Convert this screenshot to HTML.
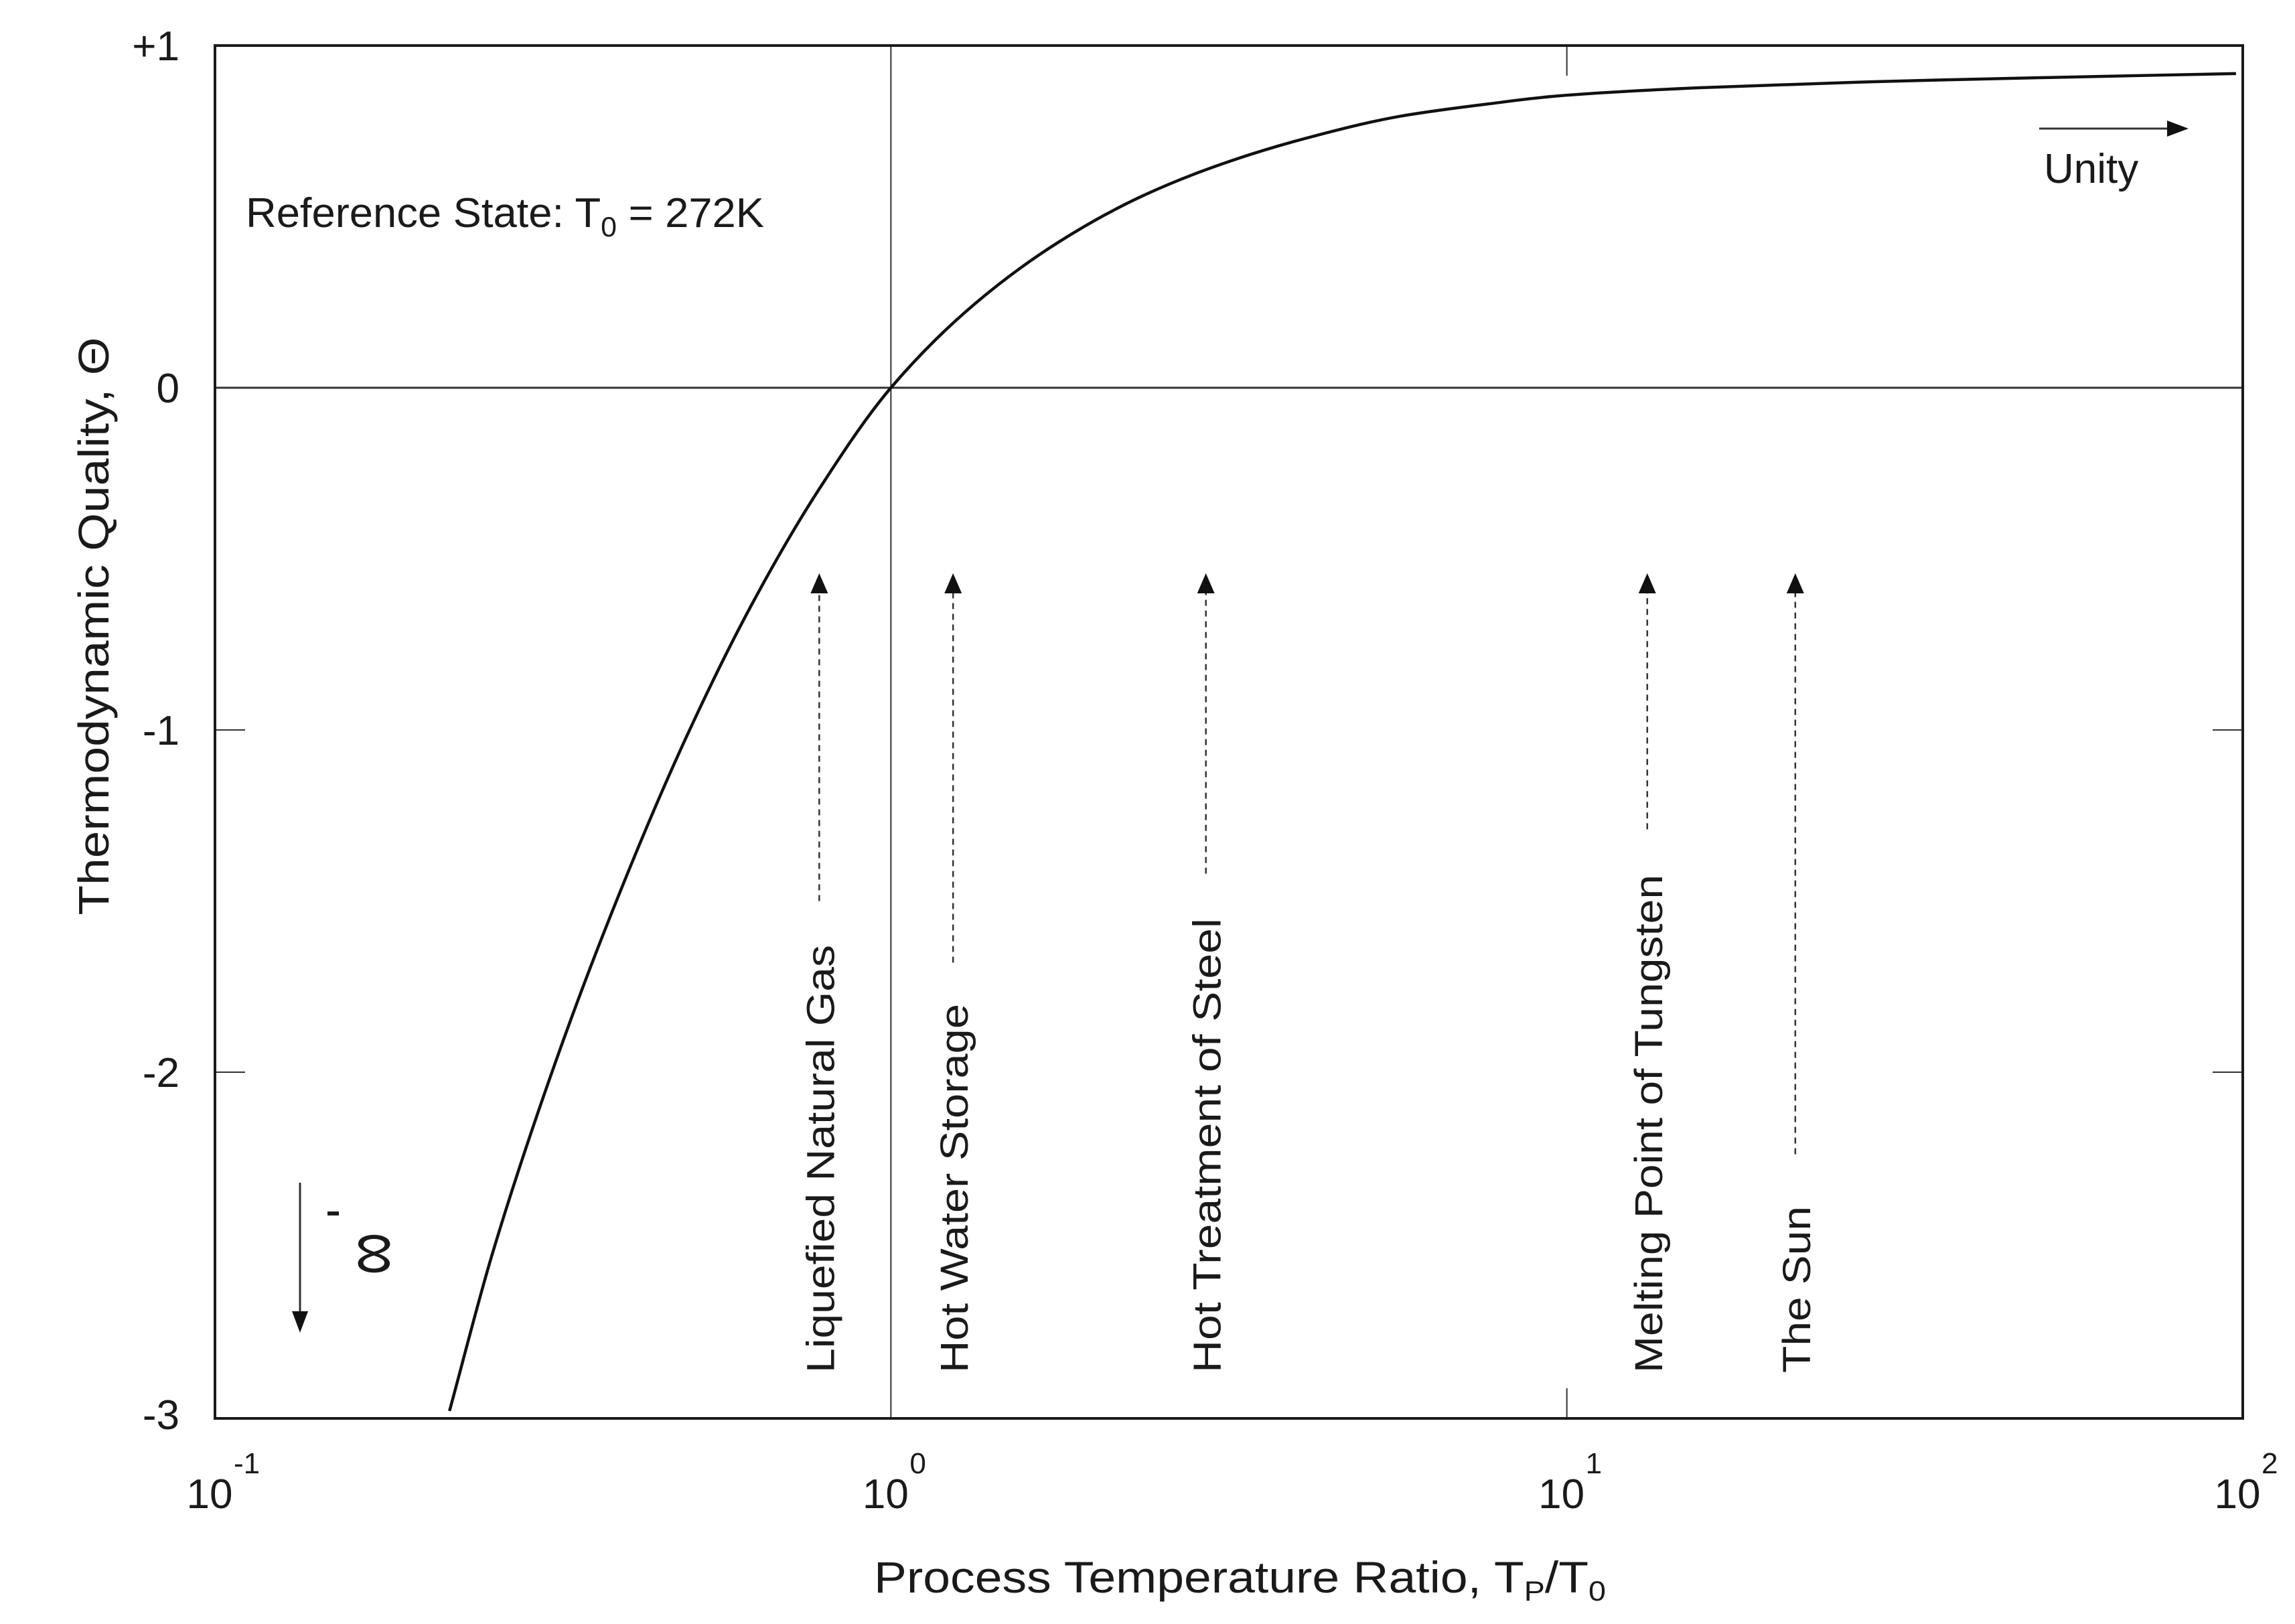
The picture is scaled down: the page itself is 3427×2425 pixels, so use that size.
<!DOCTYPE html>
<html><head><meta charset="utf-8"><style>
html,body{margin:0;padding:0;background:#fff}
svg{display:block}
text{font-family:"Liberation Sans",Arial,sans-serif;fill:#1a1a1a}
</style></head><body>
<svg id="chart" width="3427" height="2425" viewBox="0 0 3427 2425" xmlns="http://www.w3.org/2000/svg">
<g id="plot"></g>
</svg>
<script>
const logT=[-0.653,-0.591,-0.495,-0.398,-0.302,-0.206,-0.110,0,0.124,0.250,0.377,0.503,0.629,0.755,0.882,0.988,1.20,1.43,1.70,1.99];
const theta=[-2.99,-2.54,-1.964,-1.46,-1.018,-0.634,-0.308,0,0.245,0.428,0.565,0.663,0.737,0.794,0.829,0.853,0.877,0.893,0.906,0.918];
const xTickExp=[-1,0,1,2];
const yTickVals=[1,0,-1,-2,-3];
const yTickLabels=["+1","0","-1","-2","-3"];
const annLabels=["Liquefied  Natural  Gas","Hot  Water  Storage","Hot  Treatment  of  Steel","Melting  Point of  Tungsten","The  Sun"];
const annLogT=[-0.106,0.092,0.466,1.119,1.338];
const annDashEnd=[-1.5,-1.68,-1.42,-1.29,-2.24];
const annLen=[639,551,679,744,249];

const L=321,R=3349,T=68,B=2118;
const X=v=>L+(v+1)*(R-L)/3;
const Y=v=>579-v*(579-T);
const NS="http://www.w3.org/2000/svg";
const g=document.getElementById('plot');
function mk(tag,attrs,parent){const e=document.createElementNS(NS,tag);for(const k in attrs)e.setAttribute(k,attrs[k]);(parent||g).appendChild(e);return e;}

let e=mk('line',{x1:L,y1:Y(0),x2:R,y2:Y(0),stroke:'#333','stroke-width':3});


e=mk('line',{x1:X(0),y1:T,x2:X(0),y2:B,stroke:'#333','stroke-width':2});


[X(1)].forEach(x=>{mk('line',{x1:x,y1:T,x2:x,y2:T+45,stroke:'#333','stroke-width':2});mk('line',{x1:x,y1:B,x2:x,y2:B-45,stroke:'#333','stroke-width':2});});
[-1,-2].forEach(v=>{mk('line',{x1:L,y1:Y(v),x2:L+45,y2:Y(v),stroke:'#333','stroke-width':2});mk('line',{x1:R,y1:Y(v),x2:R-45,y2:Y(v),stroke:'#333','stroke-width':2});});
e=mk('rect',{x:L,y:T,width:R-L,height:B-T,fill:'none',stroke:'#1a1a1a','stroke-width':4});



function monotonePath(){
  const xs=logT.map(X), ys=theta.map(Y), n=xs.length;
  const dx=[],m=[];for(let i=0;i<n-1;i++){dx.push(xs[i+1]-xs[i]);m.push((ys[i+1]-ys[i])/dx[i]);}
  const t=[m[0]];for(let i=1;i<n-1;i++){t.push(m[i-1]*m[i]<=0?0:(dx[i-1]+dx[i])*3/((2*dx[i]+dx[i-1])/m[i-1]+(dx[i]+2*dx[i-1])/m[i]));}t.push(m[n-2]);
  let s='M'+xs[0].toFixed(1)+','+ys[0].toFixed(1);
  for(let i=0;i<n-1;i++){const h=dx[i]/3;
    s+=' C'+(xs[i]+h).toFixed(1)+','+(ys[i]+t[i]*h).toFixed(1)+' '+(xs[i+1]-h).toFixed(1)+','+(ys[i+1]-t[i+1]*h).toFixed(1)+' '+xs[i+1].toFixed(1)+','+ys[i+1].toFixed(1);}
  return s;}
e=mk('path',{d:monotonePath(),fill:'none',stroke:'#111','stroke-width':4.5});



yTickVals.forEach((v,i)=>{const t=mk('text',{x:268,y:Y(v)+22,'font-size':62,'text-anchor':'end'});t.textContent=yTickLabels[i];

});
xTickExp.forEach(p=>{const t=mk('text',{x:X(p)-8,y:2252,'font-size':62,'text-anchor':'middle'});t.textContent='10';


const s=mk('text',{x:X(p)+28,y:2200,'font-size':44,'text-anchor':'start'});s.textContent=String(p);

});
annLabels.forEach((lab,i)=>{const x=X(annLogT[i]);const y2=Y(annDashEnd[i]);
const l=mk('line',{x1:x,y1:y2,x2:x,y2:884,stroke:'#333','stroke-width':2.5,'stroke-dasharray':'9,7'});


mk('polygon',{points:`${x},856 ${x-13},886 ${x+13},886`,fill:'#111'});
const t=mk('text',{x:0,y:0,'font-size':58,transform:`translate(${x+22},2050) rotate(-90)`,textLength:annLen[i],lengthAdjust:'spacingAndGlyphs'});
t.textContent=lab;

});
</script>
<svg style="position:absolute;left:0;top:0" width="3427" height="2425">
<text x="367" y="339" font-size="62" textLength="774" lengthAdjust="spacingAndGlyphs">Reference State: T<tspan font-size="42" dy="14">0</tspan><tspan dy="-14"> = 272K</tspan></text>
<line x1="3045" y1="192" x2="3240" y2="192" stroke="#333" stroke-width="3"/>
<polygon points="3268,192 3236,180 3236,204" fill="#111"/>
<text x="3052" y="273" font-size="62">Unity</text>
<line x1="448" y1="1766" x2="448" y2="1960" stroke="#333" stroke-width="3"/>
<polygon points="448,1990 436,1958 460,1958" fill="#111"/>
<g>
<line x1="489" y1="1812" x2="506" y2="1812" stroke="#1a1a1a" stroke-width="6"/>
<text transform="translate(522,1840) rotate(90) scale(1,1.4)" font-size="90">∞</text>
</g>
<text transform="translate(162,935) rotate(-90)" font-size="64" text-anchor="middle" textLength="863" lengthAdjust="spacingAndGlyphs">Thermodynamic Quality, Θ</text>
<text x="1305" y="2378" font-size="66" textLength="1093" lengthAdjust="spacingAndGlyphs">Process Temperature Ratio, T<tspan font-size="42" dy="12">P</tspan><tspan dy="-12">/T</tspan><tspan font-size="42" dy="12">0</tspan></text>
</svg>
</body></html>
